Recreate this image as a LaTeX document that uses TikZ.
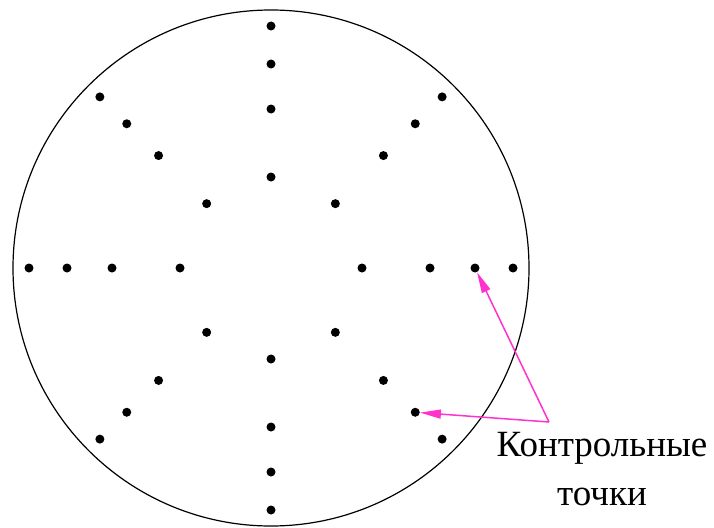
\documentclass[tikz,border=0pt]{standalone}
\usepackage{fontspec}
\setmainfont{Liberation Serif}
\usepackage{xcolor}
\usetikzlibrary{positioning, arrows.meta}
\definecolor{callpink}{HTML}{FF33CC}

\begin{document}
\begin{tikzpicture}[x=1pt, y=-1pt,
    dot/.style={circle, fill=black, inner sep=0pt, minimum size=9pt},
    callout/.style={draw=callpink, line width=1.5pt, -{Triangle[length=21pt, width=9pt]}}]
      \useasboundingbox (0,0) rectangle (714,527);

      % Circle
      \coordinate (c) at (271,268);
      \draw[line width=1.2pt] (c) circle[radius=258];

      % Points along the rays
      \foreach \a in {0,45,...,315} {
        \foreach \r in {91,159,204,242} {
          \node[dot] (d\a-\r) at ([shift={(\a:\r)}]c) {};
        }
      }

      % Label and arrows
      \node[anchor=north, inner sep=0pt, align=center, font=\fontsize{37}{49}\selectfont] (label) at (602,432) {Контрольные\\точки};
      \coordinate (apex) at (549,422);
      \draw[callout] (apex) -- (d0-204);
      \draw[callout] (apex) -- (d45-204);
\end{tikzpicture}
\end{document}
